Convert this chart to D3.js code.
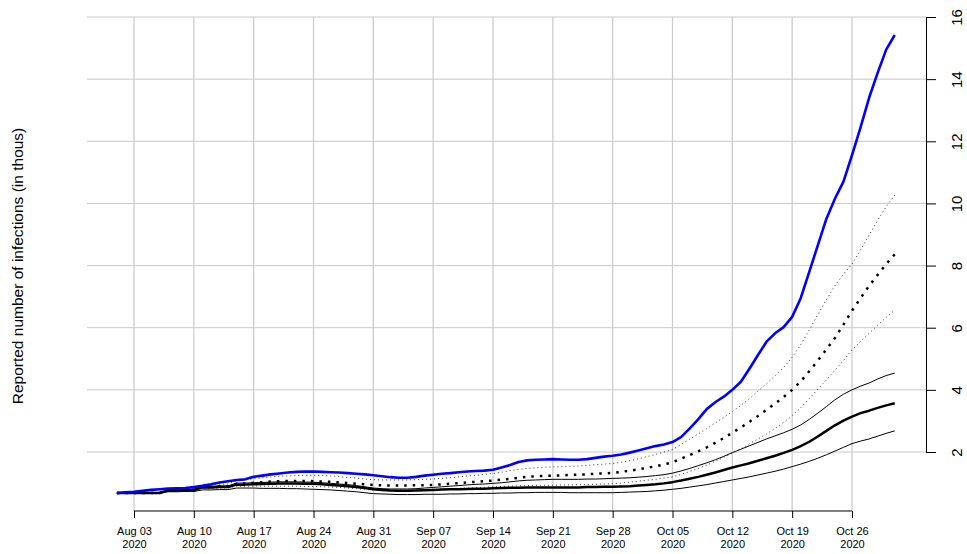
<!DOCTYPE html>
<html>
<head>
<meta charset="utf-8">
<script src="https://cdn.jsdelivr.net/npm/d3@7"></script>
<style>
  html, body { margin: 0; padding: 0; background: #fff; }
  svg { display: block; font-family: "Liberation Sans", Arial, Helvetica, sans-serif; }
</style>
</head>
<body>
<svg id="chart" width="967" height="554"></svg>
<script>
// ---------- data (thousands of reported infections, daily Aug 01 – Oct 31 2020) ----------
const startDate = "2020-08-01";
const tickDates = ["2020-08-03","2020-08-10","2020-08-17","2020-08-24","2020-08-31","2020-09-07",
                   "2020-09-14","2020-09-21","2020-09-28","2020-10-05","2020-10-12","2020-10-19","2020-10-26"];
const tickLabels = ["Aug 03","Aug 10","Aug 17","Aug 24","Aug 31","Sep 07","Sep 14",
                    "Sep 21","Sep 28","Oct 05","Oct 12","Oct 19","Oct 26"];
const yTicks = [2, 4, 6, 8, 10, 12, 14, 16];
const yTitle = "Reported number of infections (in thous)";

const reported = [0.68,0.70,0.72,0.75,0.78,0.80,0.82,0.83,0.84,0.87,
  0.91,0.96,1.02,1.06,1.10,1.12,1.20,1.24,1.28,1.31,
  1.34,1.36,1.37,1.37,1.36,1.35,1.34,1.32,1.30,1.28,
  1.25,1.22,1.19,1.17,1.17,1.20,1.24,1.27,1.30,1.32,
  1.35,1.37,1.39,1.40,1.43,1.50,1.58,1.68,1.73,1.75,
  1.76,1.77,1.76,1.75,1.75,1.77,1.81,1.85,1.88,1.92,
  1.98,2.05,2.12,2.19,2.24,2.32,2.48,2.75,3.05,3.38,
  3.60,3.78,4.00,4.26,4.68,5.12,5.55,5.82,6.02,6.35,
  6.95,7.80,8.65,9.50,10.15,10.70,11.55,12.45,13.40,14.20,
  14.95,15.42];

const medianA = [0.68,0.68,0.68,0.68,0.68,0.68,0.76,0.76,0.77,0.77,
  0.86,0.86,0.87,0.87,0.95,0.95,0.96,0.97,0.98,0.99,
  0.99,0.99,0.98,0.98,0.96,0.94,0.92,0.90,0.87,0.84,
  0.80,0.78,0.76,0.75,0.75,0.76,0.77,0.78,0.79,0.80,
  0.80,0.81,0.82,0.82,0.83,0.84,0.85,0.85,0.86,0.86,
  0.86,0.86,0.86,0.86,0.86,0.87,0.87,0.88,0.88,0.89,
  0.90,0.92,0.94,0.96,0.99,1.03,1.08,1.14,1.20,1.27,
  1.34,1.42,1.50,1.57,1.64,1.72,1.80,1.88,1.97,2.07,
  2.19,2.33,2.50,2.68,2.86,3.01,3.14,3.25,3.33,3.42,
  3.50,3.57];

const upperA = [0.68,0.68,0.68,0.68,0.68,0.68,0.79,0.79,0.80,0.80,
  0.90,0.90,0.91,0.91,1.00,1.00,1.01,1.02,1.03,1.04,
  1.04,1.04,1.03,1.03,1.01,0.99,0.97,0.95,0.92,0.88,
  0.84,0.82,0.81,0.81,0.81,0.82,0.84,0.86,0.88,0.90,
  0.92,0.94,0.96,0.97,0.99,1.01,1.04,1.07,1.09,1.10,
  1.11,1.12,1.12,1.12,1.12,1.13,1.13,1.14,1.15,1.16,
  1.17,1.19,1.21,1.24,1.27,1.32,1.39,1.47,1.56,1.65,
  1.75,1.86,1.98,2.09,2.20,2.31,2.42,2.52,2.62,2.73,
  2.87,3.05,3.25,3.46,3.68,3.86,4.00,4.12,4.22,4.35,
  4.46,4.54];

const lowerA = [0.68,0.68,0.68,0.68,0.68,0.68,0.72,0.72,0.73,0.73,
  0.78,0.78,0.79,0.79,0.84,0.84,0.84,0.83,0.83,0.83,
  0.82,0.82,0.81,0.80,0.79,0.78,0.76,0.74,0.72,0.69,
  0.66,0.65,0.64,0.63,0.63,0.63,0.64,0.64,0.64,0.65,
  0.65,0.66,0.66,0.67,0.67,0.68,0.68,0.69,0.69,0.70,
  0.70,0.70,0.70,0.69,0.69,0.69,0.69,0.69,0.69,0.70,
  0.71,0.72,0.73,0.75,0.77,0.80,0.83,0.87,0.91,0.95,
  1.00,1.05,1.10,1.15,1.20,1.26,1.32,1.38,1.45,1.53,
  1.61,1.70,1.80,1.91,2.03,2.15,2.27,2.35,2.42,2.51,
  2.60,2.68];

const medianB = [0.68,0.68,0.68,0.68,0.68,0.68,0.77,0.77,0.78,0.78,
  0.88,0.88,0.89,0.89,0.98,0.99,1.01,1.03,1.05,1.06,
  1.07,1.07,1.07,1.06,1.05,1.04,1.02,1.00,0.98,0.96,
  0.94,0.93,0.92,0.92,0.92,0.93,0.93,0.94,0.96,0.98,
  1.00,1.02,1.04,1.06,1.08,1.11,1.14,1.17,1.20,1.22,
  1.23,1.24,1.25,1.26,1.27,1.28,1.30,1.31,1.33,1.36,
  1.40,1.44,1.49,1.54,1.60,1.67,1.78,1.90,2.02,2.15,
  2.29,2.45,2.62,2.79,2.97,3.16,3.36,3.56,3.77,4.00,
  4.27,4.60,4.94,5.30,5.67,6.10,6.55,6.95,7.35,7.70,
  8.05,8.36];

const upperB = [0.68,0.68,0.68,0.68,0.68,0.68,0.81,0.81,0.82,0.83,
  0.95,0.95,0.96,0.97,1.08,1.10,1.14,1.17,1.20,1.22,
  1.23,1.24,1.25,1.25,1.24,1.23,1.21,1.18,1.16,1.13,
  1.11,1.10,1.10,1.10,1.10,1.11,1.12,1.13,1.15,1.17,
  1.20,1.23,1.25,1.28,1.31,1.35,1.40,1.44,1.47,1.49,
  1.51,1.52,1.53,1.54,1.55,1.57,1.59,1.61,1.63,1.67,
  1.72,1.78,1.85,1.92,2.00,2.08,2.24,2.41,2.58,2.75,
  2.93,3.12,3.30,3.50,3.72,3.96,4.20,4.45,4.72,5.05,
  5.45,5.93,6.42,6.90,7.35,7.72,8.05,8.50,8.98,9.45,
  9.90,10.27];

const lowerB = [0.68,0.68,0.68,0.68,0.68,0.68,0.74,0.74,0.74,0.75,
  0.83,0.83,0.84,0.84,0.90,0.90,0.90,0.90,0.90,0.90,
  0.90,0.90,0.89,0.89,0.88,0.87,0.86,0.84,0.82,0.80,
  0.78,0.77,0.77,0.77,0.77,0.78,0.79,0.80,0.81,0.82,
  0.83,0.84,0.85,0.86,0.88,0.89,0.90,0.91,0.92,0.93,
  0.93,0.93,0.94,0.94,0.95,0.95,0.96,0.97,0.98,1.00,
  1.03,1.06,1.09,1.12,1.16,1.20,1.28,1.37,1.47,1.58,
  1.70,1.83,1.96,2.10,2.26,2.42,2.58,2.76,2.95,3.17,
  3.42,3.72,4.02,4.32,4.63,4.95,5.28,5.56,5.82,6.08,
  6.33,6.57];

// ---------- chart ----------
const parse = d3.utcParse("%Y-%m-%d");
const d0 = parse(startDate);
const dates = reported.map((_, i) => d3.utcDay.offset(d0, i));
const tickDateObjs = tickDates.map(parse);

const svg = d3.select("#chart");
const plot = { left: 87, right: 926, top: 17, bottom: 511 };

const x = d3.scaleUtc()
  .domain([tickDateObjs[0], tickDateObjs[tickDateObjs.length - 1]])
  .range([134, 852]);
const y = d3.scaleLinear().domain([2, 16]).range([452, 17]);

// grid
const grid = svg.append("g");
grid.selectAll("line.h").data(yTicks).join("line")
  .attr("x1", plot.left).attr("x2", plot.right)
  .attr("y1", d => y(d)).attr("y2", d => y(d))
  .attr("stroke", "#c8c8c8").attr("stroke-width", 1);
grid.selectAll("line.v").data(tickDateObjs).join("line")
  .attr("x1", d => x(d)).attr("x2", d => x(d))
  .attr("y1", plot.top).attr("y2", plot.bottom)
  .attr("stroke", "#cdcdcd").attr("stroke-width", 1.3);

// x axis
const xAxis = d3.axisBottom(x).tickValues(tickDateObjs).tickSize(7).tickSizeOuter(0).tickPadding(3)
  .tickFormat((d, i) => tickLabels[i]);
const gx = svg.append("g").attr("transform", `translate(0,${plot.bottom})`).call(xAxis);
gx.select(".domain").attr("stroke", "#000").attr("d", `M${x(tickDateObjs[0])},0H${x(tickDateObjs[tickDateObjs.length-1])}`);
gx.selectAll(".tick line").attr("stroke", "#000");
gx.selectAll(".tick text").each(function(d, i) {
  const t = d3.select(this);
  t.text(null).attr("font-size", 11).attr("fill", "#000").attr("y", 0).attr("dy", null);
  t.append("tspan").attr("x", 0).attr("y", 24).text(tickLabels[i]);
  t.append("tspan").attr("x", 0).attr("y", 37).text("2020");
});

// right y axis
const yAxis = d3.axisRight(y).tickValues(yTicks).tickSize(10).tickSizeOuter(0).tickFormat(d3.format("d"));
const gy = svg.append("g").attr("transform", `translate(${plot.right},0)`).call(yAxis);
gy.select(".domain").attr("stroke", "#000");
gy.selectAll(".tick line").attr("stroke", "#000");
gy.selectAll(".tick text")
  .attr("font-size", 15).attr("fill", "#000")
  .attr("x", null).attr("dy", null)
  .attr("text-anchor", "middle")
  .attr("transform", "translate(36,0) rotate(-90)");

// y title
svg.append("text")
  .attr("transform", `translate(23,266) rotate(-90)`)
  .attr("text-anchor", "middle")
  .attr("font-size", 15.5)
  .attr("fill", "#000")
  .text(yTitle);

// lines
const line = d3.line().x((d, i) => x(dates[i])).y(d => y(d));
const series = [
  { v: lowerA,  stroke: "#000", w: 1,   dash: null },
  { v: upperA,  stroke: "#000", w: 1,   dash: null },
  { v: lowerB,  stroke: "#333", w: 1,   dash: "1,3" },
  { v: upperB,  stroke: "#333", w: 1,   dash: "1,3" },
  { v: medianA, stroke: "#000", w: 2.5, dash: null },
  { v: medianB, stroke: "#000", w: 2.5, dash: "2.5,6" },
  { v: reported, stroke: "#0000ff", w: 2.6, dash: null }
];
svg.append("g").selectAll("path").data(series).join("path")
  .attr("d", s => line(s.v))
  .attr("fill", "none")
  .attr("stroke", s => s.stroke)
  .attr("stroke-width", s => s.w)
  .attr("stroke-dasharray", s => s.dash)
  .attr("stroke-linejoin", "round");
</script>
</body>
</html>
